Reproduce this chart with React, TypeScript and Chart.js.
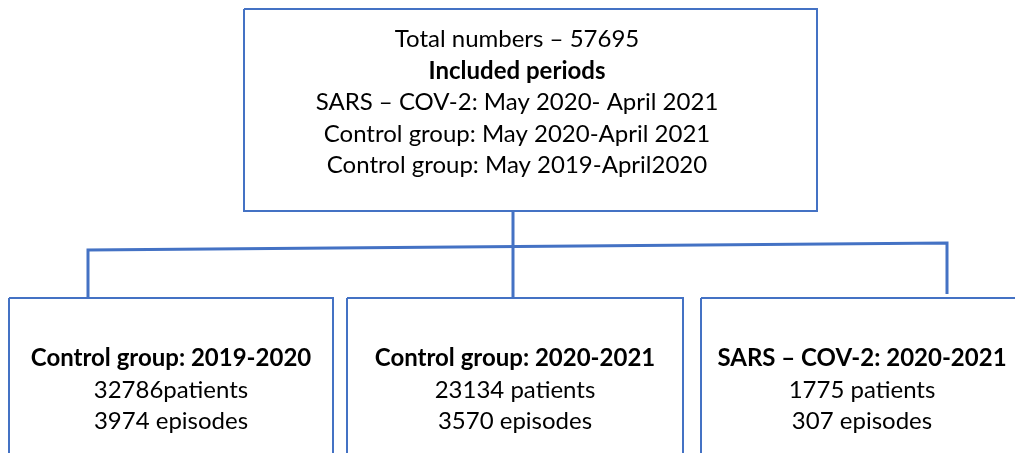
import React, { useEffect, useRef } from "react";
import { Chart, registerables } from "chart.js";

Chart.register(...registerables);

// ---- data ----
const totalLabel = "Total numbers";
const totalNumber = 57695;
const periodsTitle = "Included periods";
const periodLines = [
  "SARS – COV-2: May 2020- April 2021",
  "Control group: May 2020-April 2021",
  "Control group: May 2019-April2020",
];
const groupNames = ["Control group: 2019-2020", "Control group: 2020-2021", "SARS – COV-2: 2020-2021"];
const groupPatients = [32786, 23134, 1775];
const groupPatientSep = ["", " ", " "];
const groupEpisodes = [3974, 3570, 307];

// ---- layout (pixel-space coordinates on linear scales) ----
const W = 1015;
const H = 453;
const topBox = { x0: 244, y0: 9, x1: 817, y1: 211 };
const bottomBoxes = [
  { x0: 9, y0: 298, x1: 333, y1: 470 },
  { x0: 347, y0: 298, x1: 683, y1: 470 },
  { x0: 701, y0: 298, x1: 1030, y1: 470 },
];
const connectors = [
  [
    { x: 513, y: 211 },
    { x: 513, y: 298 },
  ],
  [
    { x: 88, y: 297 },
    { x: 88, y: 250 },
    { x: 947, y: 243 },
    { x: 947, y: 294 },
  ],
];
const topTextCx = 517;
const topTextY = [39, 71, 102, 134, 165];
const groupTextCx = [171, 515, 862];
const groupTextY = [358, 390, 421];

const BLUE = "#4472C4";
const FONT = "Lato, 'Open Sans', sans-serif";
const FONT_SIZE = 24;

function rectPts(b: { x0: number; y0: number; x1: number; y1: number }) {
  return [
    { x: b.x0, y: b.y0 },
    { x: b.x1, y: b.y0 },
    { x: b.x1, y: b.y1 },
    { x: b.x0, y: b.y1 },
    { x: b.x0, y: b.y0 },
  ];
}

export default function App() {
  const ref = useRef<HTMLCanvasElement>(null);
  useEffect(() => {
    const canvas = ref.current!;
    const textPlugin = {
      id: "flowText",
      afterDatasetsDraw(chart: any) {
        const { ctx, scales } = chart;
        const xs = scales.x;
        const ys = scales.y;
        ctx.save();
        ctx.fillStyle = "#000";
        ctx.textAlign = "center";
        ctx.textBaseline = "middle";
        const topLines = [
          { t: `${totalLabel} – ${totalNumber}`, b: false },
          { t: periodsTitle, b: true },
          ...periodLines.map((t) => ({ t, b: false })),
        ];
        topLines.forEach((l, i) => {
          ctx.font = `${l.b ? "bold " : ""}${FONT_SIZE}px ${FONT}`;
          ctx.fillText(l.t, xs.getPixelForValue(topTextCx), ys.getPixelForValue(topTextY[i]));
        });
        groupNames.forEach((name, g) => {
          const lines = [
            { t: name, b: true },
            { t: `${groupPatients[g]}${groupPatientSep[g]}patients`, b: false },
            { t: `${groupEpisodes[g]} episodes`, b: false },
          ];
          lines.forEach((l, i) => {
            ctx.font = `${l.b ? "bold " : ""}${FONT_SIZE}px ${FONT}`;
            ctx.fillText(l.t, xs.getPixelForValue(groupTextCx[g]), ys.getPixelForValue(groupTextY[i]));
          });
        });
        ctx.restore();
      },
    };
    const boxSets = [topBox, ...bottomBoxes].map((b) => ({
      data: rectPts(b),
      showLine: true,
      borderColor: BLUE,
      borderWidth: 2,
      pointRadius: 0,
      fill: false,
      tension: 0,
    }));
    const connSets = connectors.map((pts) => ({
      data: pts,
      showLine: true,
      borderColor: BLUE,
      borderWidth: 3,
      pointRadius: 0,
      fill: false,
      tension: 0,
    }));
    const chart = new Chart(canvas, {
      type: "scatter",
      data: { datasets: [...boxSets, ...connSets] as any },
      options: {
        animation: false,
        responsive: false,
        maintainAspectRatio: false,
        layout: { padding: 0 },
        plugins: { legend: { display: false }, tooltip: { enabled: false }, title: { display: false } },
        scales: {
          x: { type: "linear", min: 0, max: W, display: false },
          y: { type: "linear", min: 0, max: H, reverse: true, display: false },
        },
      },
      plugins: [textPlugin],
    });
    return () => chart.destroy();
  }, []);
  return (
    <div style={{ position: "fixed", left: 0, top: 0, width: W, height: H, background: "#fff" }}>
      <canvas ref={ref} width={W} height={H} style={{ display: "block" }} />
    </div>
  );
}
